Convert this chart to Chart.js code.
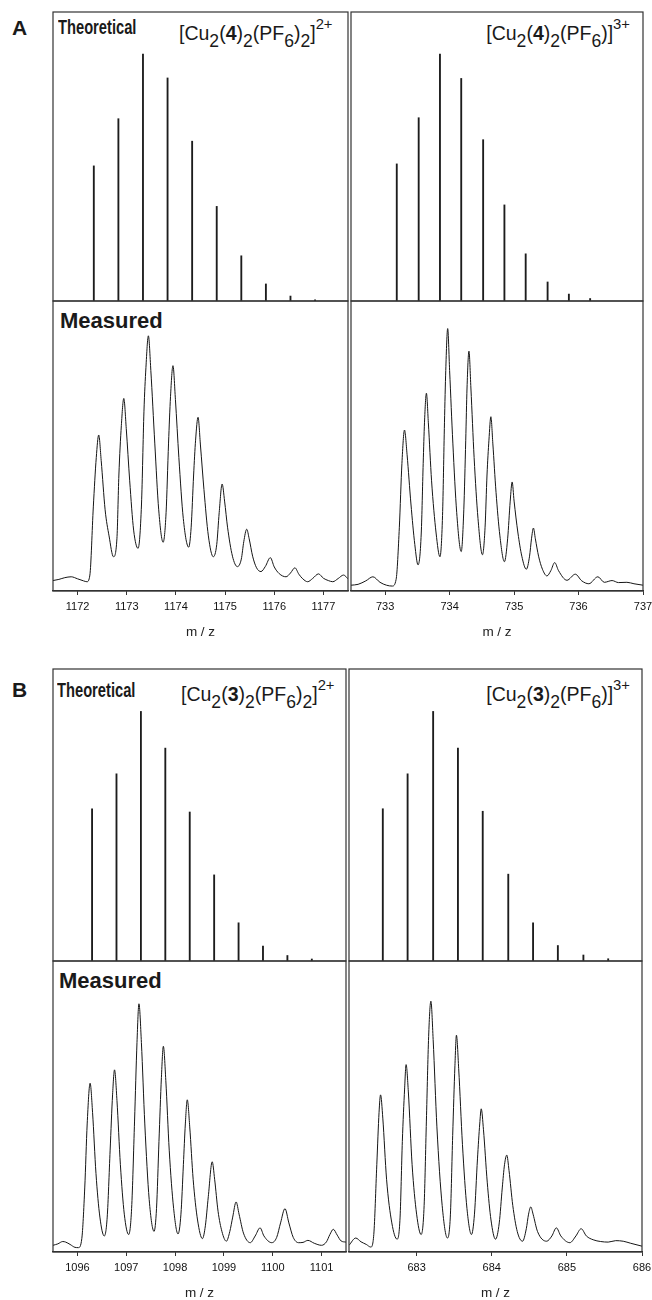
<!DOCTYPE html>
<html>
<head>
<meta charset="utf-8">
<script src="https://cdn.jsdelivr.net/npm/chart.js@4.4.0/dist/chart.umd.min.js"></script>
<style>
  html, body { margin: 0; padding: 0; background: #fff; overflow: hidden; }
  #page { position: relative; width: 652px; height: 1300px; overflow: hidden;
          font-family: "Liberation Sans", Arial, sans-serif; color: #1a1a1a; }
  .box { position: absolute; }
  .lbl { position: absolute; line-height: 1; white-space: nowrap; }
  .panel { font-weight: bold; font-size: 21px; }
  .theo { font-weight: bold; font-size: 21px; transform: scaleX(0.7); transform-origin: 0 0; }
  .meas { font-weight: bold; font-size: 22px; }
  .formula { font-size: 19.5px; }
  .formula .d { position: relative; top: 0.4em; font-size: 0.9em; }
  .formula .u { position: relative; top: -0.72em; font-size: 0.76em; }
</style>
</head>
<body>
<div id="page">
  <div class="lbl panel" style="left:12px;top:17px;">A</div>
  <div class="lbl theo" style="left:58px;top:16px;">Theoretical</div>
  <div class="lbl formula" style="left:179px;top:24px;">[Cu<span class="d">2</span>(<b>4</b>)<span class="d">2</span>(PF<span class="d">6</span>)<span class="d">2</span>]<span class="u">2+</span></div>
  <div class="lbl formula" style="right:22px;top:24px;">[Cu<span class="d">2</span>(<b>4</b>)<span class="d">2</span>(PF<span class="d">6</span>)]<span class="u">3+</span></div>
  <div class="lbl meas" style="left:60px;top:310px;">Measured</div>

  <div class="lbl panel" style="left:12px;top:679px;">B</div>
  <div class="lbl theo" style="left:57px;top:679px;">Theoretical</div>
  <div class="lbl formula" style="left:181px;top:685px;">[Cu<span class="d">2</span>(<b>3</b>)<span class="d">2</span>(PF<span class="d">6</span>)<span class="d">2</span>]<span class="u">2+</span></div>
  <div class="lbl formula" style="right:22px;top:685px;">[Cu<span class="d">2</span>(<b>3</b>)<span class="d">2</span>(PF<span class="d">6</span>)]<span class="u">3+</span></div>
  <div class="lbl meas" style="left:59px;top:970px;">Measured</div>
</div>

<script>
// ---------- panel A, left: [Cu2(4)2(PF6)2]2+ ----------
var theoMzA1 = [1172.33, 1172.83, 1173.33, 1173.83, 1174.33, 1174.83, 1175.33, 1175.83, 1176.33, 1176.83];
var theoIntA1 = [54.7, 73.8, 100, 90.3, 64.7, 38.3, 18.3, 6.9, 2.0, 0.5];
var measMzA1 = [1171.50, 1171.62, 1171.74, 1171.87, 1172.00, 1172.12, 1172.19, 1172.25, 1172.32, 1172.38,
  1172.43, 1172.48, 1172.56, 1172.64, 1172.73, 1172.80, 1172.84, 1172.89, 1172.94, 1172.99,
  1173.06, 1173.14, 1173.23, 1173.30, 1173.35, 1173.39, 1173.44, 1173.49, 1173.57, 1173.65,
  1173.74, 1173.80, 1173.85, 1173.89, 1173.94, 1173.99, 1174.06, 1174.15, 1174.26, 1174.31,
  1174.36, 1174.40, 1174.45, 1174.50, 1174.57, 1174.66, 1174.76, 1174.83, 1174.88, 1174.94,
  1174.99, 1175.05, 1175.15, 1175.25, 1175.33, 1175.38, 1175.44, 1175.49, 1175.56, 1175.64,
  1175.73, 1175.82, 1175.92, 1176.00, 1176.10, 1176.24, 1176.33, 1176.42, 1176.50, 1176.58,
  1176.68, 1176.78, 1176.90, 1177.00, 1177.10, 1177.19, 1177.30, 1177.41, 1177.50];
var measIntA1 = [3.6, 4.0, 4.6, 4.9, 4.2, 3.5, 3.2, 5.5, 29, 46,
  53.8, 45, 28, 19, 11.8, 18, 40, 57, 66.4, 56,
  38, 21, 14.7, 30, 62, 77, 88.0, 76, 51, 28,
  16.8, 27, 51, 67, 77.7, 66, 46, 25, 15.1, 22,
  40, 52, 59.9, 50, 35, 19, 11.8, 16, 27, 36.9,
  31, 22, 12, 8.4, 11, 17, 21.3, 18, 12, 8,
  6.7, 8.5, 11.5, 8.3, 6.0, 4.9, 6.2, 8.0, 5.8, 4.2,
  3.2, 4.3, 5.9, 4.4, 3.6, 3.2, 4.3, 5.5, 4.2];
var ticksA1 = [1172, 1173, 1174, 1175, 1176, 1177];

// ---------- panel A, right: [Cu2(4)2(PF6)]3+ ----------
var theoMzA2 = [733.18, 733.52, 733.85, 734.18, 734.52, 734.85, 735.18, 735.52, 735.85, 736.18];
var theoIntA2 = [55.5, 74.2, 100, 90.1, 65.3, 38.9, 19.1, 7.7, 2.8, 1.0];
var measMzA2 = [732.47, 732.58, 732.70, 732.81, 732.92, 733.02, 733.11, 733.17, 733.22, 733.26,
  733.30, 733.34, 733.40, 733.46, 733.51, 733.56, 733.59, 733.61, 733.64, 733.67,
  733.72, 733.79, 733.85, 733.89, 733.92, 733.94, 733.97, 734.00, 734.05, 734.11,
  734.18, 734.22, 734.25, 734.27, 734.30, 734.33, 734.38, 734.44, 734.51, 734.55,
  734.58, 734.61, 734.64, 734.67, 734.72, 734.78, 734.85, 734.90, 734.94, 734.97,
  735.00, 735.06, 735.12, 735.19, 735.24, 735.27, 735.30, 735.33, 735.38, 735.44,
  735.51, 735.57, 735.63, 735.69, 735.82, 735.95, 736.05, 736.16, 736.30, 736.40,
  736.52, 736.62, 736.75, 736.86, 737.00];
var measIntA2 = [2.0, 2.3, 3.5, 4.9, 3.0, 2.0, 1.7, 4, 22, 44,
  55.5, 47, 30, 16, 9.0, 20, 44, 58, 68.2, 58,
  38, 20, 11.8, 26, 58, 76, 90.5, 76, 51, 27,
  13.6, 28, 52, 70, 82.7, 70, 46, 25, 12.5, 22,
  40, 52, 60.1, 51, 34, 19, 10.1, 18, 31, 37.6,
  31, 20, 12, 7.5, 12, 18, 21.7, 18, 12, 7.5,
  5.2, 7, 9.8, 7, 3.7, 5.8, 3.5, 2.5, 4.9, 3.0,
  3.6, 2.9, 3.0, 2.5, 2.0];
var ticksA2 = [733, 734, 735, 736, 737];

// ---------- panel B, left: [Cu2(3)2(PF6)2]2+ ----------
var theoMzB1 = [1096.30, 1096.80, 1097.30, 1097.80, 1098.30, 1098.80, 1099.30, 1099.80, 1100.30, 1100.80];
var theoIntB1 = [61, 75, 100, 85.3, 59.7, 34.5, 15.3, 6.0, 2.2, 0.8];
var measMzB1 = [1095.50, 1095.60, 1095.70, 1095.76, 1095.85, 1095.95, 1096.02, 1096.09, 1096.15, 1096.20,
  1096.26, 1096.31, 1096.38, 1096.46, 1096.55, 1096.61, 1096.67, 1096.72, 1096.76, 1096.81,
  1096.88, 1096.96, 1097.05, 1097.11, 1097.17, 1097.22, 1097.26, 1097.31, 1097.38, 1097.47,
  1097.57, 1097.62, 1097.67, 1097.72, 1097.76, 1097.81, 1097.88, 1097.97, 1098.06, 1098.12,
  1098.17, 1098.21, 1098.25, 1098.30, 1098.37, 1098.46, 1098.56, 1098.62, 1098.68, 1098.76,
  1098.81, 1098.88, 1098.96, 1099.05, 1099.12, 1099.18, 1099.25, 1099.31, 1099.40, 1099.54,
  1099.64, 1099.74, 1099.82, 1099.98, 1100.08, 1100.16, 1100.25, 1100.33, 1100.42, 1100.53,
  1100.62, 1100.72, 1100.85, 1101.00, 1101.10, 1101.17, 1101.24, 1101.32, 1101.40, 1101.50];
var measIntB1 = [2.3, 2.8, 3.6, 3.4, 2.6, 1.6, 1.5, 4.6, 22, 44,
  58.0, 48, 27, 12, 5.5, 12, 35, 54, 62.6, 52,
  30, 13, 6.0, 15, 45, 72, 85.3, 72, 44, 18,
  7.1, 15, 38, 60, 70.7, 59, 35, 15, 6.2, 13,
  30, 44, 52.3, 43, 25, 11, 4.6, 9, 19, 31.0,
  25, 14, 7, 3.7, 7, 12, 17.2, 13, 6.5, 3.2,
  5.5, 8.3, 5.5, 3.2, 5, 10, 14.9, 10, 5, 3.2,
  3.3, 4.0, 3.0, 2.3, 3.5, 6, 7.8, 5.8, 3.8, 3.4];
var ticksB1 = [1096, 1097, 1098, 1099, 1100, 1101];

// ---------- panel B, right: [Cu2(3)2(PF6)]3+ ----------
var theoMzB2 = [682.55, 682.88, 683.22, 683.55, 683.88, 684.22, 684.55, 684.88, 685.22, 685.55];
var theoIntB2 = [61, 75, 100, 85.3, 60, 34.8, 15.3, 6.2, 2.4, 0.9];
var measMzB2 = [682.10, 682.19, 682.26, 682.33, 682.39, 682.43, 682.47, 682.50, 682.52, 682.55,
  682.60, 682.67, 682.74, 682.78, 682.81, 682.84, 682.86, 682.89, 682.94, 683.00,
  683.06, 683.10, 683.13, 683.16, 683.19, 683.22, 683.27, 683.34, 683.41, 683.45,
  683.48, 683.51, 683.53, 683.56, 683.61, 683.67, 683.73, 683.77, 683.81, 683.84,
  683.86, 683.89, 683.94, 683.99, 684.05, 684.10, 684.14, 684.17, 684.20, 684.23,
  684.28, 684.34, 684.41, 684.46, 684.49, 684.52, 684.55, 684.61, 684.73, 684.80,
  684.86, 684.92, 685.04, 685.12, 685.19, 685.26, 685.35, 685.45, 685.55, 685.65,
  685.75, 685.85, 686.00];
var measIntB2 = [2.3, 4.8, 3.5, 2.6, 1.7, 6, 30, 48, 54.0, 46,
  25, 10, 4.4, 12, 38, 56, 64.4, 55, 30, 13,
  6.0, 16, 45, 74, 86.2, 73, 43, 16, 4.8, 13,
  40, 64, 74.5, 63, 37, 15, 6.0, 13, 32, 44,
  49.2, 42, 24, 11, 4.4, 10, 22, 30, 33.3, 28,
  16, 7, 3.7, 8, 13, 15.5, 13, 7, 3.7, 5.5,
  8.3, 5.5, 3.2, 5.5, 8.0, 5.5, 4.2, 3.6, 3.4, 3.9,
  3.7, 3.0, 2.0];
var ticksB2 = [683, 684, 685, 686];

// ---------- layout ----------
var FONT = '"Liberation Sans", Arial, sans-serif';
var INK = '#1c1c1c';
var FRAME = '#333';

var frame = {
  id: 'frame',
  afterDraw: function(chart) {
    var a = chart.chartArea, c = chart.ctx;
    c.save();
    c.strokeStyle = FRAME;
    c.lineWidth = 1.2;
    c.strokeRect(a.left, a.top, a.right - a.left, a.bottom - a.top);
    c.restore();
  }
};

function addBox(left, top, width, height) {
  var div = document.createElement('div');
  div.className = 'box';
  div.style.cssText = 'left:' + left + 'px;top:' + top + 'px;width:' + width + 'px;height:' + height + 'px;';
  var cv = document.createElement('canvas');
  div.appendChild(cv);
  document.getElementById('page').appendChild(div);
  return cv;
}

function points(xs, ys) {
  return xs.map(function(x, i) { return { x: x, y: ys[i] }; });
}

function theoChart(col, top, bottom, mz, vals) {
  var cv = addBox(col.left - 1, top - 1, col.right - col.left + 2, bottom - top + 2);
  return new Chart(cv, {
    type: 'bar',
    data: { datasets: [{ data: points(mz, vals), backgroundColor: INK, barThickness: 1.2 }] },
    options: {
      responsive: true, maintainAspectRatio: false, animation: false,
      layout: { padding: 1 },
      plugins: { legend: { display: false }, tooltip: { enabled: false } },
      scales: {
        x: { type: 'linear', min: col.min, max: col.max, offset: false, display: false },
        y: { min: 0, max: 117, display: false }
      }
    },
    plugins: [frame]
  });
}

function measChart(col, top, bottom, mz, vals, ticks) {
  var cv = addBox(col.left - 1, top - 1, col.right - col.left + 16, bottom - top + 50);
  return new Chart(cv, {
    type: 'line',
    data: { datasets: [{ data: points(mz, vals), borderColor: '#151515', borderWidth: 1,
                         pointRadius: 0, fill: false, cubicInterpolationMode: 'monotone' }] },
    options: {
      responsive: true, maintainAspectRatio: false, animation: false,
      layout: { padding: { left: 1, top: 1, right: 15, bottom: 0 } },
      plugins: { legend: { display: false }, tooltip: { enabled: false } },
      scales: {
        x: {
          type: 'linear', min: col.min, max: col.max, offset: false,
          afterBuildTicks: function(s) { s.ticks = ticks.map(function(v) { return { value: v }; }); },
          afterFit: function(s) { s.height = 49; },
          grid: { display: true, drawOnChartArea: false, drawTicks: true, tickLength: 4, color: FRAME, lineWidth: 1 },
          border: { display: true, color: FRAME, width: 1.2 },
          ticks: { font: { family: FONT, size: 11 }, color: '#111', padding: 5,
                   maxRotation: 0, autoSkip: false,
                   callback: function(v) { return String(v); } },
          title: { display: true, text: 'm / z', font: { family: FONT, size: 13.5 }, color: '#222', padding: 0 }
        },
        y: { min: 0, max: 100, display: false }
      }
    },
    plugins: [frame]
  });
}

var colA1 = { left: 53, right: 348, min: 1171.5, max: 1177.5 };
var colA2 = { left: 351, right: 643, min: 732.47, max: 737.0 };
var colB1 = { left: 53, right: 346, min: 1095.5, max: 1101.5 };
var colB2 = { left: 349, right: 642, min: 682.1, max: 686.0 };

theoChart(colA1, 12, 301, theoMzA1, theoIntA1);
theoChart(colA2, 12, 301, theoMzA2, theoIntA2);
measChart(colA1, 301, 591, measMzA1, measIntA1, ticksA1);
measChart(colA2, 301, 591, measMzA2, measIntA2, ticksA2);

theoChart(colB1, 669, 961, theoMzB1, theoIntB1);
theoChart(colB2, 669, 961, theoMzB2, theoIntB2);
measChart(colB1, 961, 1252, measMzB1, measIntB1, ticksB1);
measChart(colB2, 961, 1252, measMzB2, measIntB2, ticksB2);
</script>
</body>
</html>
